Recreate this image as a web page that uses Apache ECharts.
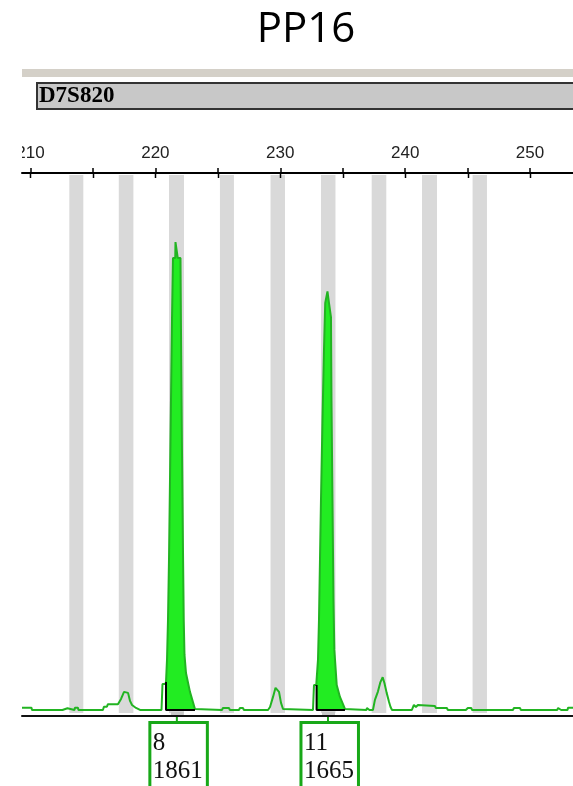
<!DOCTYPE html>
<html>
<head>
<meta charset="utf-8">
<script src="https://cdn.jsdelivr.net/npm/echarts@6/dist/echarts.min.js"></script>
<style>
html,body{margin:0;padding:0;background:#fff;}
#chart{width:573px;height:786px;}
</style>
</head>
<body>
<div id="chart"></div>
<script>
// ---- data ----
const sampleName = 'PP16';
const markerName = 'D7S820';
const sizeTicks = [210, 215, 220, 225, 230, 235, 240, 245, 250];
const sizeLabels = [210, 220, 230, 240, 250];
// allele bins (bp) [start, end]
const bins = [
  [213.11, 214.23], [217.07, 218.24], [221.09, 222.29], [225.17, 226.29],
  [229.22, 230.38], [233.26, 234.42], [237.32, 238.49], [241.35, 242.55],
  [245.40, 246.55]
];
// electropherogram trace [size bp, RFU]
const trace = [
  [209.32, 9], [210.08, 9], [210.12, 0], [212.56, 0], [212.60, 7], [212.96, 7], [213.00, 0],
  [213.52, 0], [213.56, 9], [213.80, 9], [213.84, 0], [215.80, 0], [215.88, 13], [216.12, 13],
  [216.20, 23], [217.00, 23], [217.25, 44], [217.49, 72], [217.65, 77], [217.81, 68],
  [217.97, 36], [218.13, 20], [218.45, 8], [218.77, 0], [220.49, 0], [220.57, 103],
  [220.81, 103],
  [220.85, 111], [220.93, 199], [221.01, 358], [221.09, 597], [221.17, 915], [221.25, 1233],
  [221.33, 1551], [221.41, 1798], [221.59, 1798], [221.61, 1861], [221.77, 1861], [221.79, 1798],
  [222.01, 1798], [222.05, 1512], [222.13, 1034], [222.21, 636], [222.27, 360], [222.33, 220],
  [222.45, 147], [222.77, 72], [223.17, 4],
  [223.25, 0], [225.33, 0], [225.41, 8], [225.89, 8], [225.97, 0], [226.69, 0], [226.77, 8],
  [227.01, 8], [227.09, 0], [229.02, 0], [229.18, 12], [229.42, 52], [229.62, 88], [229.78, 95],
  [229.90, 72], [230.06, 28], [230.22, 4], [230.38, 0], [232.62, 0], [232.70, 99], [232.88, 99],
  [232.91, 99], [233.02, 199], [233.10, 358], [233.18, 597], [233.26, 835], [233.38, 1154],
  [233.50, 1432], [233.60, 1619], [233.76, 1619], [233.78, 1665], [233.87, 1665], [233.90, 1619],
  [234.03, 1619], [234.06, 1563], [234.10, 1233], [234.18, 835], [234.26, 438], [234.33, 239],
  [234.52, 99], [234.78, 52], [235.18, 4],
  [235.26, 0], [236.90, 0], [236.94, 8], [237.10, 8], [237.14, 0], [237.42, 0], [237.58, 40],
  [237.82, 73], [238.02, 111], [238.20, 130], [238.34, 107], [238.52, 68], [238.71, 32],
  [238.83, 12], [238.95, 0], [240.54, 0], [240.70, 20], [240.86, 12], [241.02, 20], [242.38, 16],
  [242.46, 8], [243.34, 8], [243.42, 0], [244.86, 0], [245.02, 8], [245.30, 8], [245.35, 0],
  [248.63, 0], [248.71, 8], [249.19, 8], [249.27, 0], [252.17, 0], [252.25, 8], [252.41, 8],
  [252.49, 0], [253.00, 0], [253.04, 9], [253.44, 9]
];
// called peaks
const peakAlleles = ['8', '11'];
const peakHeights = [1861, 1665];
const peakSizes = [221.72, 233.82];
const peakStarts = [220.85, 232.91];
const peakEnds = [223.17, 235.18];

// ---- build options ----
const X_MIN = 209.32, X_MAX = 253.44, Y_MIN = -24, Y_MAX = 2136;
const LINE_GREEN = '#22b422';
const FILL_GREEN = '#22ec22';
const BOX_GREEN = '#18a818';

const fillSeries = peakStarts.map((s, i) => ({
  type: 'line',
  name: 'peak' + i,
  data: trace.filter(p => p[0] >= s && p[0] <= peakEnds[i]),
  showSymbol: false,
  lineStyle: { width: 0 },
  areaStyle: { color: FILL_GREEN, opacity: 1, origin: 0 },
  z: 3,
  silent: true
}));
const outlineSeries = peakStarts.map((s, i) => {
  const first = trace.find(p => p[0] >= s);
  return {
    type: 'line',
    data: [[s, first[1]], [s, 0], [peakEnds[i], 0]],
    showSymbol: false,
    lineStyle: { color: '#000', width: 2 },
    z: 5,
    silent: true
  };
});

const chart = echarts.init(document.getElementById('chart'), null, { renderer: 'canvas' });
chart.setOption({
  animation: false,
  backgroundColor: '#fff',
  grid: { left: 22, right: 0, top: 173, bottom: 70, containLabel: false },
  xAxis: [
    {
      type: 'value', position: 'top', min: X_MIN, max: X_MAX,
      axisLine: { show: true, onZero: false, lineStyle: { color: '#000', width: 2 } },
      axisTick: { show: true, length: 5, inside: false, customValues: sizeTicks, lineStyle: { color: '#000', width: 1.5 } },
      axisLabel: { show: true, customValues: sizeLabels, margin: 11, color: '#222', fontFamily: 'Liberation Sans', fontSize: 17 },
      splitLine: { show: false }
    },
    {
      type: 'value', position: 'bottom', min: X_MIN, max: X_MAX,
      axisLine: { show: true, onZero: false, lineStyle: { color: '#111', width: 2 } },
      axisTick: { show: false }, axisLabel: { show: false }, splitLine: { show: false }
    }
  ],
  yAxis: { type: 'value', min: Y_MIN, max: Y_MAX, show: false, splitLine: { show: false } },
  series: [
    {
      type: 'custom', name: 'bins', z: 1, silent: true,
      data: bins,
      renderItem: function (params, api) {
        const cs = params.coordSys;
        const x0 = api.coord([api.value(0), 0])[0];
        const x1 = api.coord([api.value(1), 0])[0];
        return {
          type: 'rect',
          shape: { x: x0, y: cs.y + 2, width: x1 - x0, height: cs.height - 5 },
          style: { fill: '#d9d9d9' }
        };
      }
    },
    {
      // inner half of the crossing ticks on the top axis
      type: 'custom', name: 'innerTicks', z: 7, silent: true, clip: false,
      data: sizeTicks.map(v => [v]),
      renderItem: function (params, api) {
        const cs = params.coordSys;
        const x = Math.round(api.coord([api.value(0), 0])[0]) + 0.5;
        return {
          type: 'line',
          shape: { x1: x, y1: cs.y, x2: x, y2: cs.y + 5 },
          style: { stroke: '#000', lineWidth: 1.5 }
        };
      }
    },
    ...fillSeries,
    ...outlineSeries,
    {
      type: 'line', name: 'trace', data: trace, showSymbol: false, z: 4, silent: true,
      lineStyle: { color: LINE_GREEN, width: 2 }
    },
    {
      type: 'custom', name: 'labels', z: 6, silent: true, clip: false,
      data: peakSizes.map((s, i) => [s, peakHeights[i], peakAlleles[i]]),
      renderItem: function (params, api) {
        const p = api.coord([api.value(0), Y_MIN]);
        const cx = p[0], ay = p[1];
        const idx = params.dataIndex;
        return {
          type: 'group',
          children: [
            { type: 'rect', shape: { x: cx - 6, y: ay - 4, width: 13, height: 3 }, style: { fill: '#c8c8c8' } },
            { type: 'line', shape: { x1: cx, y1: ay + 1, x2: cx, y2: ay + 6 }, style: { stroke: BOX_GREEN, lineWidth: 2 } },
            { type: 'rect', shape: { x: cx - 27, y: ay + 6.5, width: 57.5, height: 70 }, style: { fill: '#fff', stroke: BOX_GREEN, lineWidth: 3 } },
            { type: 'text', style: { text: peakAlleles[idx], x: cx - 24, y: ay + 27, verticalAlign: 'middle', align: 'left', font: '25px "Liberation Serif"', fill: '#111' } },
            { type: 'text', style: { text: String(peakHeights[idx]), x: cx - 24, y: ay + 55, verticalAlign: 'middle', align: 'left', font: '25px "Liberation Serif"', fill: '#111' } }
          ]
        };
      }
    }
  ],
  graphic: [
    { type: 'text', z: 10, style: { text: sampleName, x: 306, y: 30, align: 'center', verticalAlign: 'middle', font: '42px "Open Sans"', fill: '#000' } },
    { type: 'rect', z: 10, shape: { x: 22, y: 69, width: 551, height: 8 }, style: { fill: '#d4d0c8' } },
    { type: 'rect', z: 10, shape: { x: 37, y: 83, width: 545, height: 26 }, style: { fill: '#c8c8c8', stroke: '#333', lineWidth: 2 } },
    { type: 'text', z: 11, style: { text: markerName, x: 39, y: 96.5, align: 'left', verticalAlign: 'middle', font: 'bold 23px "Liberation Serif"', fill: '#000' } },
    { type: 'rect', z: 100, shape: { x: 0, y: 130, width: 22, height: 38 }, style: { fill: '#fff' } }
  ]
});
</script>
</body>
</html>
